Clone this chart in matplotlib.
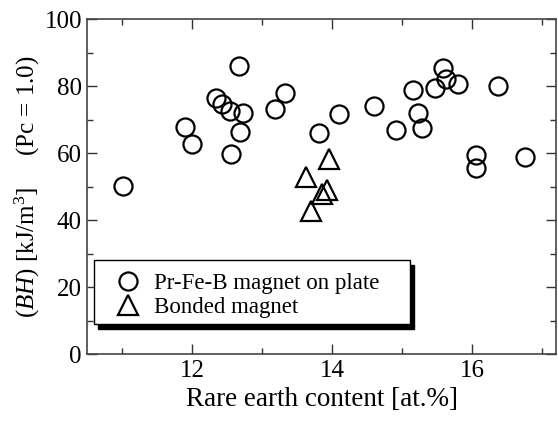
import matplotlib
matplotlib.use("Agg")
import matplotlib.pyplot as plt
from matplotlib.patches import Rectangle
from matplotlib.ticker import MultipleLocator

plt.rcParams['font.family'] = ['Liberation Serif', 'DejaVu Serif']
plt.rcParams['mathtext.fontset'] = 'custom'
plt.rcParams['mathtext.rm'] = 'Liberation Serif'
plt.rcParams['mathtext.it'] = 'Liberation Serif:italic'

# Pr-Fe-B magnets deposited on plate
plate_re = [11.01, 11.89, 12.00, 12.34, 12.42, 12.54, 12.55, 12.67, 12.68, 12.72,
            13.18, 13.32, 13.81, 14.09, 14.60, 14.91, 15.15, 15.23, 15.28, 15.47,
            15.59, 15.62, 15.80, 16.37, 16.05, 16.06, 16.75]
plate_bh = [50.2, 67.9, 62.7, 76.3, 74.6, 72.5, 59.7, 86.1, 66.2, 71.8,
            73.1, 78.0, 65.9, 71.6, 74.1, 66.9, 78.8, 72.0, 67.6, 79.3,
            85.3, 82.2, 80.6, 80.0, 59.4, 55.4, 58.9]

# Bonded magnets
bonded_re = [13.95, 13.63, 13.93, 13.86, 13.70]
bonded_bh = [58.3, 52.9, 48.9, 47.7, 42.8]

x_ticks = [12, 14, 16]
y_ticks = [0, 20, 40, 60, 80, 100]

fig = plt.figure(figsize=(5.58, 4.21), dpi=100)
ax = fig.add_axes([0.1568, 0.1591, 0.8396, 0.7957])

ax.plot(plate_re, plate_bh, linestyle='none', marker='o', markersize=13,
        mfc='none', mec='black', mew=1.6, label='Pr-Fe-B magnet on plate')
ax.plot(bonded_re, bonded_bh, linestyle='none', marker='^', markersize=14,
        mfc='none', mec='black', mew=1.6, label='Bonded magnet')

ax.set_xlim(10.5, 17.2)
ax.set_ylim(0, 100)
ax.set_xticks(x_ticks)
ax.set_yticks(y_ticks)
ax.xaxis.set_minor_locator(MultipleLocator(1))
ax.yaxis.set_minor_locator(MultipleLocator(10))
ax.tick_params(which='both', direction='in', top=True, right=True,
               labelsize=18, color='#333333')
ax.tick_params(which='major', length=7, width=1, pad=4)
ax.tick_params(which='minor', length=4, width=1)
for s in ax.spines.values():
    s.set_color('#444444')
    s.set_linewidth(1.2)

ax.set_xlabel('Rare earth content [at.%]', fontsize=19.5, labelpad=4)
ax.set_ylabel(r'$\mathit{(BH)}$ [kJ/m$^{3}$]     (Pc = 1.0)', fontsize=18, labelpad=2)

# Legend box with a solid drop shadow
box_x, box_y, box_w, box_h = 0.0145, 0.0896, 0.6735, 0.191
ax.add_patch(Rectangle((box_x + 0.008, box_y - 0.014), box_w, box_h,
                       transform=ax.transAxes, facecolor='black',
                       edgecolor='black', zorder=4, clip_on=False))
ax.add_patch(Rectangle((box_x, box_y), box_w, box_h,
                       transform=ax.transAxes, facecolor='white',
                       edgecolor='black', linewidth=1.0, zorder=4.5,
                       clip_on=False))

leg = ax.legend(loc='center left', bbox_to_anchor=(0.054, 0.174), fontsize=16.5,
                numpoints=1, handlelength=1.3, handletextpad=0.5,
                borderpad=0, labelspacing=0.15, borderaxespad=0,
                frameon=False)
leg.set_zorder(5)

fig.savefig('out.png', dpi=100)
